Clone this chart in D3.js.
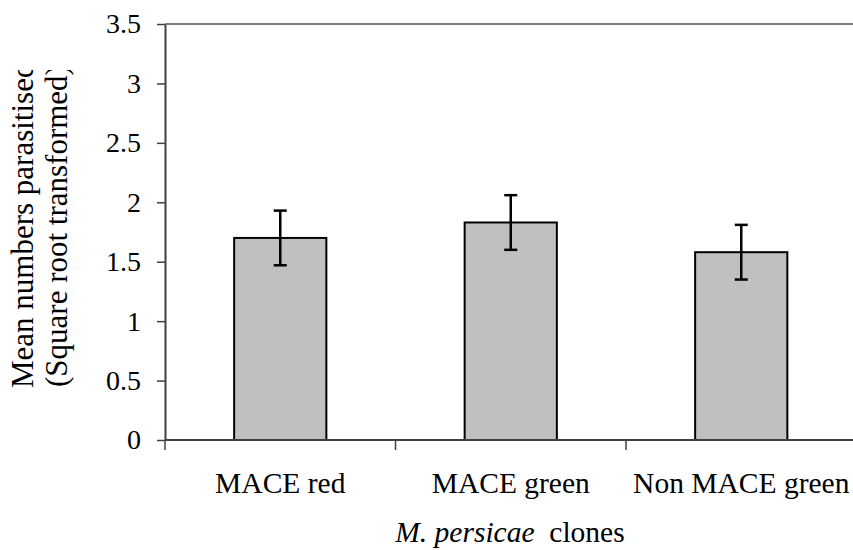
<!DOCTYPE html>
<html>
<head>
<meta charset="utf-8">
<script src="https://cdn.jsdelivr.net/npm/d3@7/dist/d3.min.js"></script>
<style>
  html, body { margin: 0; padding: 0; background: #fff; }
</style>
</head>
<body>
<svg id="chart" width="853" height="550"></svg>
<script>
// Clone categories, mean (square-root transformed) and standard error
const categories = ["MACE red", "MACE green", "Non MACE green"];
const means = [1.70, 1.83, 1.58];
const errors = [0.23, 0.23, 0.23];
const yTicks = [0, 0.5, 1, 1.5, 2, 2.5, 3, 3.5];
const yTickLabels = ["0", "0.5", "1", "1.5", "2", "2.5", "3", "3.5"];

const serif = "'Liberation Serif', 'Times New Roman', serif";
const svg = d3.select("#chart");
const plotLeft = 165, plotRight = 856.5, plotTop = 24, plotBottom = 440;

const x = d3.scaleBand().domain(categories).range([plotLeft, plotRight])
  .paddingInner(0.6).paddingOuter(0.3);
const y = d3.scaleLinear().domain([0, 3.5]).range([plotBottom, plotTop]);

// Plot frame (top edge)
svg.append("line")
  .attr("x1", plotLeft).attr("x2", plotRight).attr("y1", plotTop).attr("y2", plotTop)
  .attr("stroke", "#808080").attr("stroke-width", 2);

// Bars
svg.selectAll("rect.bar").data(categories).enter().append("rect")
  .attr("class", "bar")
  .attr("x", d => x(d))
  .attr("width", x.bandwidth())
  .attr("y", (d, i) => y(means[i]))
  .attr("height", (d, i) => y(0) - y(means[i]))
  .attr("fill", "#c0c0c0")
  .attr("stroke", "#000").attr("stroke-width", 2);

// Error bars
const capHalf = 6.5;
const eb = svg.selectAll("g.err").data(categories).enter().append("g").attr("class", "err");
eb.append("line")
  .attr("x1", d => x(d) + x.bandwidth() / 2).attr("x2", d => x(d) + x.bandwidth() / 2)
  .attr("y1", (d, i) => y(means[i] + errors[i])).attr("y2", (d, i) => y(means[i] - errors[i]))
  .attr("stroke", "#000").attr("stroke-width", 2.5);
eb.append("line")
  .attr("x1", d => x(d) + x.bandwidth() / 2 - capHalf).attr("x2", d => x(d) + x.bandwidth() / 2 + capHalf)
  .attr("y1", (d, i) => y(means[i] + errors[i])).attr("y2", (d, i) => y(means[i] + errors[i]))
  .attr("stroke", "#000").attr("stroke-width", 2.5);
eb.append("line")
  .attr("x1", d => x(d) + x.bandwidth() / 2 - capHalf).attr("x2", d => x(d) + x.bandwidth() / 2 + capHalf)
  .attr("y1", (d, i) => y(means[i] - errors[i])).attr("y2", (d, i) => y(means[i] - errors[i]))
  .attr("stroke", "#000").attr("stroke-width", 2.5);

// Y axis
const yAxis = d3.axisLeft(y).tickValues(yTicks)
  .tickFormat((d, i) => yTickLabels[i]).tickSize(8).tickPadding(16).tickSizeOuter(0);
const gy = svg.append("g").attr("transform", `translate(${plotLeft},0)`).call(yAxis);
gy.select(".domain").attr("stroke", "#404040").attr("stroke-width", 2);
gy.selectAll(".tick line").attr("stroke", "#404040").attr("stroke-width", 1.5);
gy.selectAll(".tick text").attr("class", "lab28");

// X axis: baseline with ticks at category boundaries
svg.append("line")
  .attr("x1", plotLeft).attr("x2", plotRight).attr("y1", plotBottom).attr("y2", plotBottom)
  .attr("stroke", "#404040").attr("stroke-width", 2);
const boundaries = categories.map(d => x(d) - x.step() * x.paddingOuter());
svg.selectAll("line.xtick").data(boundaries).enter().append("line")
  .attr("class", "xtick")
  .attr("x1", d => d).attr("x2", d => d)
  .attr("y1", plotBottom).attr("y2", plotBottom + 10)
  .attr("stroke", "#404040").attr("stroke-width", 1.5);

svg.selectAll("text.xlab").data(categories).enter().append("text")
  .attr("class", "xlab lab29")
  .attr("x", d => x(d) + x.bandwidth() / 2)
  .attr("y", 493)
  .attr("text-anchor", "middle")
  .text(d => d);

// X axis title
const xt = svg.append("text")
  .attr("class", "lab29")
  .attr("x", 510).attr("y", 542)
  .attr("text-anchor", "middle");
xt.append("tspan").style("font-style", "italic").text("M. persicae");
xt.append("tspan").text("\u00a0 clones");

// Y axis title, clipped at the top of its box
svg.append("clipPath").attr("id", "ytclip")
  .append("rect").attr("x", 0).attr("y", 70).attr("width", 100).attr("height", 400);
const yt = svg.append("g").attr("clip-path", "url(#ytclip)");
yt.append("text")
  .attr("class", "lab31")
  .attr("transform", "translate(33,388) rotate(-90)")
  .text("Mean numbers parasitised");
yt.append("text")
  .attr("class", "lab31")
  .attr("transform", "translate(67,387) rotate(-90)")
  .text("(Square root transformed)");

// Typeface and sizes for the labels
svg.selectAll("text").style("font-family", serif).style("fill", "#000");
svg.selectAll("text.lab28").style("font-size", "28px");
svg.selectAll("text.lab29").style("font-size", "29.5px");
svg.selectAll("text.lab31").style("font-size", "31px");
</script>
</body>
</html>
